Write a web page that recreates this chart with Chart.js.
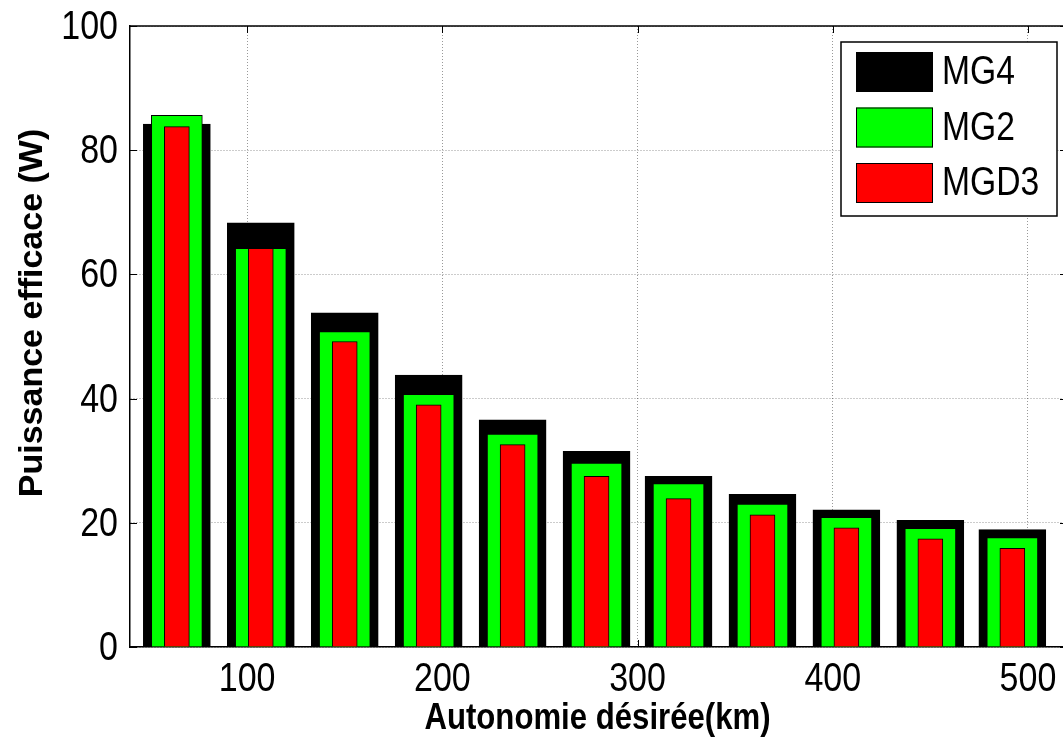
<!DOCTYPE html>
<html>
<head>
<meta charset="utf-8">
<script src="https://cdn.jsdelivr.net/npm/chart.js@4.4.1/dist/chart.umd.min.js"></script>
<style>
html,body{margin:0;padding:0;background:#fff;overflow:hidden;}
canvas{display:block;}
</style>
</head>
<body>
<canvas id="myChart" width="1080" height="746"></canvas>
<script>
// Autonomie désirée (km) - bar positions
const autonomie = [64, 107, 150, 193, 236, 279, 321, 364, 407, 450, 492];
// Puissance efficace (W)
const mg4  = [84.2, 68.3, 53.8, 43.8, 36.6, 31.5, 27.5, 24.6, 22.1, 20.4, 18.9];
const mg2  = [85.6, 64.2, 50.8, 40.7, 34.3, 29.6, 26.3, 23.0, 20.9, 19.1, 17.6];
const mgd3 = [83.8, 64.2, 49.2, 39.0, 32.6, 27.5, 23.9, 21.3, 19.2, 17.4, 15.9];
const xTicks = [100, 200, 300, 400, 500];
const yTicks = [0, 20, 40, 60, 80, 100];
const seriesNames = ["MG4", "MG2", "MGD3"];
const barColors = ["#000000", "#00ff00", "#ff0000"];

const fam = "'Liberation Sans', Arial, sans-serif";

function pts(vals){
    return autonomie.map((x, i) => ({x: x, y: vals[i]}));
}

// squeezed text, the figure looks horizontally compressed
function narrowText(ctx, text, x, y, font, align, sx){
    ctx.save();
    ctx.translate(x, y);
    ctx.scale(sx || 0.85, 1);
    ctx.font = font;
    ctx.textAlign = align;
    ctx.textBaseline = 'middle';
    ctx.fillStyle = '#000';
    ctx.fillText(text, 0, 0);
    ctx.restore();
}

const matlabBox = {
    id: 'matlabBox',
    beforeDatasetsDraw(chart){
        const ctx = chart.ctx, a = chart.chartArea;
        const xs = chart.scales.x, ys = chart.scales.y;
        ctx.save();
        ctx.strokeStyle = '#000';
        ctx.lineWidth = 1;
        ctx.beginPath();
        xTicks.forEach(v => {
            const px = Math.round(xs.getPixelForValue(v)) + 0.5;
            ctx.moveTo(px, a.bottom); ctx.lineTo(px, a.bottom - 7);
            ctx.moveTo(px, a.top); ctx.lineTo(px, a.top + 7);
        });
        yTicks.forEach(v => {
            const py = Math.round(ys.getPixelForValue(v)) + 0.5;
            ctx.moveTo(a.left, py); ctx.lineTo(a.left + 7, py);
            ctx.moveTo(a.right, py); ctx.lineTo(a.right - 7, py);
        });
        ctx.stroke();
        ctx.lineWidth = 1.5;
        ctx.beginPath();
        ctx.moveTo(a.left, a.top); ctx.lineTo(a.right, a.top); ctx.lineTo(a.right, a.bottom);
        ctx.stroke();
        ctx.restore();
    },
    afterDraw(chart){
        const ctx = chart.ctx, a = chart.chartArea;
        const xs = chart.scales.x, ys = chart.scales.y;
        // tick labels
        xTicks.forEach(v => narrowText(ctx, String(v), xs.getPixelForValue(v), a.bottom + 33, "40px " + fam, 'center'));
        yTicks.forEach(v => narrowText(ctx, String(v), a.left - 12, ys.getPixelForValue(v) + 2, "40px " + fam, 'right'));

        ctx.save();
        // legend
        const bx = a.right - 226, by = a.top + 16, bw = 216, bh = 174;
        ctx.fillStyle = '#fff';
        ctx.fillRect(bx, by, bw, bh);
        ctx.strokeStyle = '#000';
        ctx.lineWidth = 1.5;
        ctx.strokeRect(bx, by, bw, bh);
        seriesNames.forEach((name, i) => {
            const sy = by + 10 + i * 55.5;
            ctx.fillStyle = barColors[i];
            ctx.fillRect(bx + 15, sy, 77, 40);
            ctx.lineWidth = 1;
            ctx.strokeRect(bx + 15.5, sy + 0.5, 76, 39);
            narrowText(ctx, name, bx + 101, sy + 21, "41px " + fam, 'left', 0.82);
        });
        ctx.restore();

        // axis titles
        narrowText(ctx, 'Autonomie désirée(km)', (a.left + a.right) / 2 - 1, 719, "bold 36px " + fam, 'center', 0.865);
        ctx.save();
        ctx.fillStyle = '#000';
        ctx.translate(33, 313);
        ctx.rotate(-Math.PI / 2);
        ctx.font = "bold 34px " + fam;
        ctx.textAlign = 'center';
        ctx.textBaseline = 'middle';
        ctx.fillText('Puissance efficace (W)', 0, 0);
        ctx.restore();
    }
};

const conf = {
    type: 'bar',
    data: {
        datasets: [
            {label: seriesNames[0], data: pts(mg4), backgroundColor: barColors[0], borderColor: '#000', borderWidth: 1, barThickness: 67, grouped: false, order: 3},
            {label: seriesNames[1], data: pts(mg2), backgroundColor: barColors[1], borderColor: '#000', borderWidth: 1, barThickness: 51, grouped: false, order: 2},
            {label: seriesNames[2], data: pts(mgd3), backgroundColor: barColors[2], borderColor: '#000', borderWidth: 1, barThickness: 25, grouped: false, order: 1}
        ]
    },
    options: {
        responsive: false,
        animation: false,
        layout: {padding: {left: 0, top: 26, right: 13, bottom: 0}},
        plugins: {legend: {display: false}, tooltip: {enabled: false}},
        scales: {
            x: {
                type: 'linear',
                min: 40, max: 520,
                offset: false,
                afterBuildTicks: s => { s.ticks = xTicks.map(v => ({value: v})); },
                afterFit: s => { s.height = 99; s.paddingLeft = 0; s.paddingRight = 0; },
                grid: {offset: false, drawTicks: false, color: 'rgba(0,0,0,0.4)', lineWidth: 1},
                border: {display: true, color: '#000', width: 1.5, dash: [1, 2]},
                ticks: {display: false}
            },
            y: {
                min: 0, max: 100,
                afterBuildTicks: s => { s.ticks = yTicks.map(v => ({value: v})); },
                afterFit: s => { s.width = 130; s.paddingTop = 0; s.paddingBottom = 0; },
                grid: {drawTicks: false, color: 'rgba(0,0,0,0.4)', lineWidth: 1},
                border: {display: true, color: '#000', width: 1.5, dash: [1, 2]},
                ticks: {display: false}
            }
        }
    },
    plugins: [matlabBox]
};

const myChart = new Chart(document.getElementById('myChart'), conf);
</script>
</body>
</html>
